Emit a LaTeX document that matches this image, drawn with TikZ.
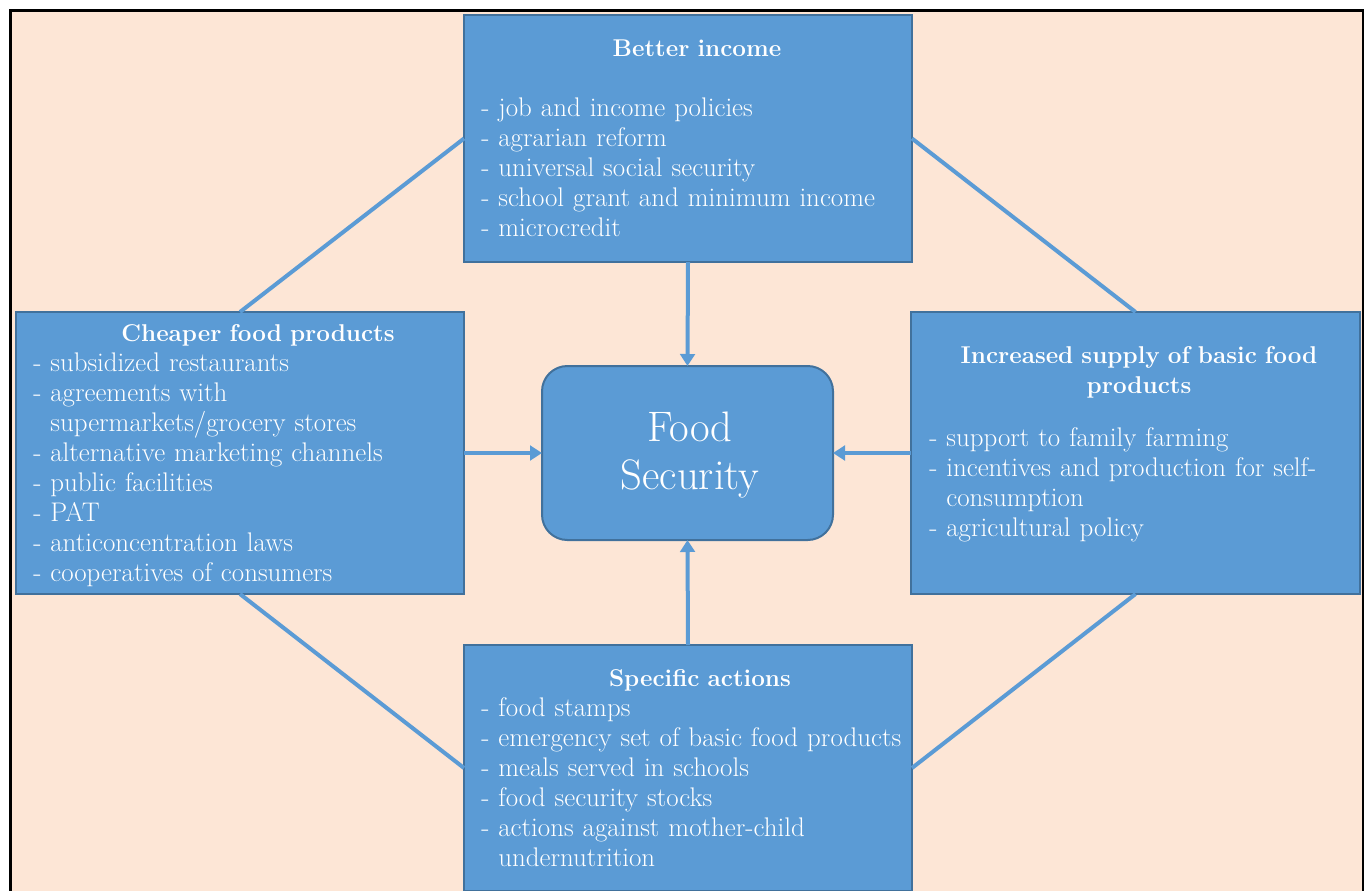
\documentclass[tikz,border=0pt]{standalone}
\usetikzlibrary{arrows.meta,fit}
\definecolor{bg}{RGB}{253,230,214}
\definecolor{boxfill}{RGB}{91,155,213}
\definecolor{boxline}{RGB}{65,113,156}
\definecolor{conn}{RGB}{91,155,213}
\begin{document}
\begin{tikzpicture}[x=0.75pt,y=-0.75pt,
 box/.style={draw=boxline, line width=1.5pt, fill=boxfill, inner sep=0pt, outer sep=0pt},
 hub/.style={box, rounded corners=19pt},
 title/.style={text=white, font=\fontsize{18.2}{22.5}\selectfont\bfseries, inner sep=0pt, anchor=base, align=center, text width=320pt},
 list/.style={text=white, font=\fontsize{20.2}{22.5}\selectfont, inner sep=0pt, anchor=base west, align=left, text width=335pt},
 hubtext/.style={text=white, font=\fontsize{32}{36.2}\selectfont, inner sep=0pt, anchor=base, align=center, text width=200pt},
 link/.style={draw=conn, line width=3pt},
 arr/.style={link, -{Triangle[width=11pt,length=9pt]}}
]
\useasboundingbox (0,0) rectangle (1364,890);
\clip (0,0) rectangle (1364,890);
\fill[white] (0,0) rectangle (1364,890);
\draw[line width=2.25pt, fill=bg] (10,10) rectangle (1363,930);

% boxes
\node[box, fit={(464,15) (912,262)}] (top) {};
\node[box, fit={(16,312) (464,594)}] (left) {};
\node[box, fit={(911,312) (1360,594)}] (right) {};
\node[box, fit={(464,645) (912,891)}] (bottom) {};
\node[hub, fit={(542,366) (833,540)}] (hub) {};

% connectors
\draw[link] (top.west) -- (left.north);
\draw[link] (top.east) -- (right.north);
\draw[link] (left.south) -- (bottom.west);
\draw[link] (right.south) -- (bottom.east);
\draw[arr] (top.south) -- (hub.north);
\draw[arr] (left.east) -- (hub.west);
\draw[arr] (right.west) -- (hub.east);
\draw[arr] (bottom.north) -- (hub.south);

% texts
\node[hubtext] (hubt) at (690,441.7) {Food\\Security};

\node[title] (toptitle) at (697,56.7) {Better income};
\node[list] (toplist) at (481,116.7) {- job and income policies\\- agrarian reform\\- universal social security\\- school grant and minimum income\\- microcredit};

\node[title] (lefttitle) at (258,341.7) {Cheaper food products};
\node[list] (leftlist) at (33,371.7) {- subsidized restaurants\\- agreements with\\\phantom{- }supermarkets/grocery stores\\- alternative marketing channels\\- public facilities\\- PAT\\- anticoncentration laws\\- cooperatives of consumers};

\node[title] (righttitle) at (1139,363.3) {Increased supply of basic food\\products};
\node[list] (rightlist) at (929,446.7) {- support to family farming\\- incentives and production for self-\\\phantom{- }consumption\\- agricultural policy};

\node[title] (bottomtitle) at (700,686.7) {Specific actions};
\node[list] (bottomlist) at (481,716.7) {- food stamps\\- emergency set of basic food products\\- meals served in schools\\- food security stocks\\- actions against mother-child\\\phantom{- }undernutrition};
\end{tikzpicture}
\end{document}
